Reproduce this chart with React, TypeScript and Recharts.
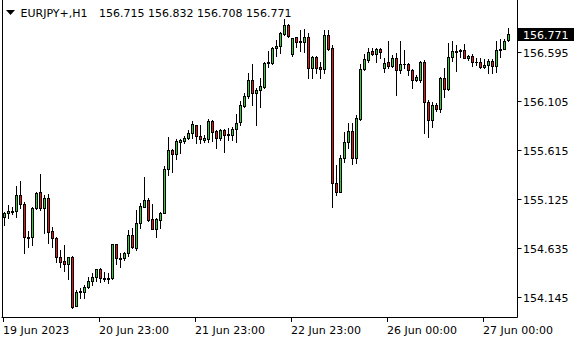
import React from 'react';
import { ComposedChart, Bar, XAxis, YAxis } from 'recharts';

// EURJPY+ H1, one entry per hourly bar, starting 19 Jun 23:00
const opens = [
  154.945, 154.985, 155.005, 155.005, 155.165, 155.075, 154.745, 154.745, 155.035, 155.195,
  155.035, 155.135, 154.805, 154.735, 154.545, 154.505, 154.475, 154.545, 154.055, 154.195,
  154.195, 154.245, 154.305, 154.345, 154.425, 154.335, 154.325, 154.335, 154.675, 154.535,
  154.535, 154.585, 154.765, 154.635, 154.885, 155.045, 155.115, 154.925, 154.825, 154.915,
  154.985, 155.425, 155.615, 155.575, 155.695, 155.705, 155.735, 155.785, 155.865, 155.755,
  155.715, 155.725, 155.905, 155.805, 155.735, 155.815, 155.765, 155.765, 155.825, 155.895,
  156.055, 156.155, 156.315, 156.185, 156.215, 156.245, 156.485, 156.485, 156.635, 156.655,
  156.775, 156.865, 156.575, 156.745, 156.695, 156.695, 156.745, 156.435, 156.545, 156.445,
  156.425, 156.765, 156.635, 155.285, 155.195, 155.535, 155.695, 155.805, 155.535, 155.925,
  156.425, 156.515, 156.605, 156.575, 156.625, 156.435, 156.495, 156.455, 156.535, 156.415,
  156.475, 156.475, 156.415, 156.315, 156.315, 156.495, 156.095, 155.915, 156.065, 156.025,
  156.335, 156.225, 156.545, 156.605, 156.605, 156.615, 156.535, 156.555, 156.495, 156.495,
  156.445, 156.465, 156.505, 156.455, 156.615, 156.625, 156.715,
];

const highs = [
  154.995, 155.065, 155.045, 155.255, 155.305, 155.095, 154.805, 155.045, 155.195, 155.375,
  155.165, 155.175, 154.845, 154.745, 154.615, 154.665, 154.545, 154.555, 154.215, 154.235,
  154.265, 154.345, 154.385, 154.425, 154.435, 154.395, 154.385, 154.675, 154.675, 154.585,
  154.595, 154.815, 154.835, 155.015, 155.085, 155.345, 155.135, 155.075, 154.935, 154.995,
  155.455, 155.745, 155.625, 155.725, 155.725, 155.755, 155.815, 155.905, 155.865, 155.865,
  155.765, 155.925, 155.915, 155.815, 155.825, 155.825, 155.835, 155.845, 155.975, 156.105,
  156.185, 156.385, 156.475, 156.235, 156.335, 156.495, 156.605, 156.645, 156.715, 156.795,
  156.925, 156.875, 156.735, 156.745, 156.815, 156.825, 156.785, 156.555, 156.555, 156.495,
  156.815, 156.815, 156.665, 155.465, 155.565, 155.795, 155.885, 155.885, 155.965, 156.475,
  156.575, 156.635, 156.635, 156.635, 156.635, 156.535, 156.705, 156.565, 156.585, 156.705,
  156.615, 156.485, 156.425, 156.365, 156.505, 156.515, 156.115, 156.095, 156.085, 156.345,
  156.435, 156.685, 156.705, 156.665, 156.625, 156.675, 156.565, 156.575, 156.535, 156.535,
  156.525, 156.525, 156.525, 156.705, 156.725, 156.725, 156.832,
];

const lows = [
  154.865, 154.935, 154.975, 154.945, 155.035, 154.585, 154.645, 154.665, 155.025, 155.015,
  154.785, 154.685, 154.645, 154.495, 154.445, 154.405, 154.325, 154.035, 154.055, 154.135,
  154.135, 154.235, 154.265, 154.305, 154.295, 154.305, 154.285, 154.325, 154.475, 154.445,
  154.515, 154.555, 154.635, 154.615, 154.835, 155.045, 154.905, 154.825, 154.745, 154.835,
  154.985, 155.365, 155.395, 155.525, 155.585, 155.685, 155.725, 155.735, 155.685, 155.685,
  155.695, 155.695, 155.705, 155.635, 155.715, 155.595, 155.715, 155.715, 155.695, 155.865,
  156.045, 156.135, 156.065, 155.865, 156.045, 156.235, 156.445, 156.475, 156.555, 156.585,
  156.765, 156.745, 156.555, 156.645, 156.605, 156.595, 156.335, 156.335, 156.385, 156.335,
  156.385, 156.615, 155.045, 155.165, 155.195, 155.495, 155.635, 155.475, 155.485, 155.915,
  156.415, 156.495, 156.565, 156.495, 156.535, 156.395, 156.435, 156.445, 156.165, 156.385,
  156.435, 156.365, 156.235, 156.305, 156.295, 155.785, 155.745, 155.845, 156.005, 155.995,
  156.145, 156.215, 156.505, 156.405, 156.545, 156.535, 156.515, 156.455, 156.465, 156.435,
  156.435, 156.385, 156.385, 156.395, 156.545, 156.625, 156.708,
];

const closes = [
  154.985, 155.005, 154.995, 155.165, 155.075, 154.745, 154.735, 155.035, 155.185, 155.035,
  155.135, 154.795, 154.735, 154.545, 154.495, 154.475, 154.545, 154.045, 154.195, 154.205,
  154.245, 154.305, 154.345, 154.425, 154.335, 154.325, 154.335, 154.675, 154.535, 154.525,
  154.585, 154.765, 154.645, 154.885, 155.055, 155.115, 154.915, 154.825, 154.925, 154.985,
  155.425, 155.615, 155.575, 155.705, 155.715, 155.735, 155.785, 155.875, 155.755, 155.725,
  155.735, 155.905, 155.795, 155.735, 155.815, 155.765, 155.775, 155.825, 155.885, 156.065,
  156.155, 156.315, 156.185, 156.215, 156.255, 156.485, 156.495, 156.635, 156.655, 156.785,
  156.865, 156.755, 156.735, 156.695, 156.705, 156.745, 156.435, 156.545, 156.435, 156.425,
  156.765, 156.625, 155.285, 155.195, 155.535, 155.695, 155.805, 155.535, 155.935, 156.425,
  156.525, 156.595, 156.575, 156.625, 156.595, 156.485, 156.455, 156.535, 156.415, 156.475,
  156.475, 156.415, 156.315, 156.345, 156.495, 156.095, 155.915, 156.065, 156.025, 156.335,
  156.225, 156.545, 156.605, 156.600, 156.615, 156.535, 156.555, 156.495, 156.490, 156.445,
  156.465, 156.505, 156.455, 156.615, 156.625, 156.705, 156.771,
];

const yTicks = [156.595, 156.105, 155.615, 155.125, 154.635, 154.145];
const timeLabels: Record<number, string> = {
  0: '19 Jun 2023',
  24: '20 Jun 23:00',
  48: '21 Jun 23:00',
  72: '22 Jun 23:00',
  96: '26 Jun 00:00',
  120: '27 Jun 00:00',
};
const symbol = 'EURJPY+,H1';
const lastClose = closes[closes.length - 1];
const RIGHT_SHIFT = 2; // empty slots right of the last bar

const candles: any[] = opens.map((o, i) => ({ i, o, h: highs[i], l: lows[i], c: closes[i] }));
for (let k = 0; k < RIGHT_SHIFT; k++) candles.push({ i: opens.length + k });

const FONT = 'DejaVu Sans';
const UP = '#32cd32';
const DOWN = '#e01818';

function Candle(props: any) {
  const { x, y, width, height, payload } = props;
  if (payload == null || payload.h == null || !isFinite(y)) return null;
  const top = Math.min(y, y + height);
  const span = Math.abs(height);
  const k = span / (payload.h - payload.l);
  const py = (p: number) => top + (payload.h - p) * k;
  const cx = Math.floor(x + width / 2) + 0.5;
  const wTop = Math.round(py(payload.h));
  const wBot = Math.round(py(payload.l)) + 1;
  const bTop = Math.round(py(Math.max(payload.o, payload.c)));
  const bBot = Math.round(py(Math.min(payload.o, payload.c)));
  const up = payload.c >= payload.o;
  return (
    <g>
      <line x1={cx} x2={cx} y1={wTop} y2={wBot} stroke="#000" strokeWidth={1} />
      {bBot - bTop < 1 ? (
        <line x1={cx - 1.5} x2={cx + 1.5} y1={bTop + 0.5} y2={bTop + 0.5} stroke="#000" strokeWidth={1} />
      ) : (
        <rect
          x={cx - 1}
          y={bTop + 0.5}
          width={2}
          height={bBot - bTop}
          fill={up ? UP : DOWN}
          stroke="#000"
          strokeWidth={1}
        />
      )}
    </g>
  );
}

function PriceTick(props: any) {
  const { x, y, payload } = props;
  const v = payload.value;
  if (v === lastClose) {
    return (
      <g>
        <rect x={x + 0.5} y={Math.round(y) - 6} width={56} height={13} fill="#000" />
        <text x={x + 5.5} y={y + 4.5} fontFamily={FONT} fontSize={11} fill="#fff">
          {v.toFixed(3)}
        </text>
      </g>
    );
  }
  const ly = Math.round(y) + 0.5;
  return (
    <g>
      <line x1={x} x2={x + 4} y1={ly} y2={ly} stroke="#000" />
      <text x={x + 5.5} y={y + 4.5} fontFamily={FONT} fontSize={11} fill="#000">
        {v.toFixed(3)}
      </text>
    </g>
  );
}

function TimeTick(props: any) {
  const { x, y, payload } = props;
  const label = timeLabels[payload.value];
  if (!label) return null;
  const cx = Math.floor(x) + 0.5;
  return (
    <g>
      <line x1={cx} x2={cx} y1={y} y2={y + 4.5} stroke="#000" />
      <text x={cx - 0.5} y={y + 16.5} fontFamily={FONT} fontSize={11} fill="#000">
        {label}
      </text>
    </g>
  );
}

export default function App() {
  return (
    <div style={{ position: 'absolute', left: 0, top: 0, width: 580, height: 340, background: '#fff' }}>
      <ComposedChart width={580} height={340} data={candles} margin={{ top: 0, right: 0, bottom: 0, left: 1.5 }}>
        <XAxis
          dataKey="i"
          type="category"
          height={22.5}
          ticks={[0, 24, 48, 72, 96, 120]}
          interval={0}
          tick={<TimeTick />}
          tickLine={false}
          tickSize={0}
          tickMargin={0}
          axisLine={{ stroke: '#000' }}
        />
        <YAxis
          orientation="right"
          type="number"
          width={62.5}
          domain={[153.94, 157.115]}
          allowDataOverflow
          ticks={[...yTicks, lastClose]}
          interval={0}
          tick={<PriceTick />}
          tickLine={false}
          tickSize={0}
          tickMargin={0}
          axisLine={{ stroke: '#000' }}
        />
        <Bar
          dataKey={(d: any) => (d.h == null ? null : [d.l, d.h])}
          barSize={3}
          shape={(p: any) => <Candle {...p} />}
          isAnimationActive={false}
        />
      </ComposedChart>
      <svg width={580} height={340} style={{ position: 'absolute', left: 0, top: 0, pointerEvents: 'none' }}>
        <line x1={2.5} x2={2.5} y1={0} y2={318} stroke="#000" />
        <polygon points="6,10 15,10 10.5,15" fill="#000" />
        <text x={20.5} y={17} fontFamily={FONT} fontSize={11} fill="#000">
          {symbol}
        </text>
        <text x={99} y={17} fontFamily={FONT} fontSize={11} fill="#000">
          {[opens[opens.length - 1], highs[highs.length - 1], lows[lows.length - 1], lastClose]
            .map((v) => v.toFixed(3))
            .join(' ')}
        </text>
      </svg>
    </div>
  );
}
